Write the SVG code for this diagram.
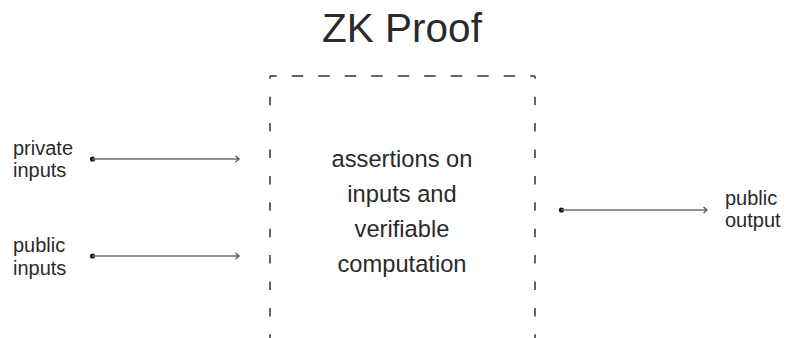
<svg xmlns="http://www.w3.org/2000/svg" width="785" height="338" viewBox="0 0 785 338">
<style>
text{font-family:"Liberation Sans",Arial,sans-serif;fill:#2a2a2a}
.lbl{font-size:20px}
.ctr{font-size:23.7px;text-anchor:middle}
.conn{stroke:#6e6e6e;stroke-width:1.5;fill:none;marker-end:url(#arr)}
.dot{fill:#1a1a1a}
.box{fill:none;stroke:#333;stroke-width:1.5}
.h{stroke-dasharray:11.5 15;stroke-dashoffset:4.8}
.v{stroke-dasharray:8.5 17.9;stroke-dashoffset:5.7}
</style>
<defs>
<marker id="arr" viewBox="0 0 10 10" refX="9" refY="5" markerWidth="10" markerHeight="10" markerUnits="userSpaceOnUse" orient="auto">
<path d="M5.5,2 L9,5 L5.5,8" fill="none" stroke="#555" stroke-width="1.3"/>
</marker>
</defs>
<text x="402" y="42" style="font-size:40.5px;text-anchor:middle">ZK Proof</text>
<g id="proof">
<path class="box h" d="M270,76 H535"/>
<path class="box v" d="M270,76 V345"/>
<path class="box v" d="M535,76 V345"/>
<text class="ctr" x="402" y="167">assertions on</text>
<text class="ctr" x="402" y="202">inputs and</text>
<text class="ctr" x="402" y="237">verifiable</text>
<text class="ctr" x="402" y="272">computation</text>
</g>
<g id="private-inputs">
<text class="lbl" x="13" y="155">private</text>
<text class="lbl" x="13" y="177">inputs</text>
</g>
<g id="public-inputs">
<text class="lbl" x="13" y="252">public</text>
<text class="lbl" x="13" y="275">inputs</text>
</g>
<g id="public-output">
<text class="lbl" x="725" y="205">public</text>
<text class="lbl" x="725" y="227">output</text>
</g>
<g id="connectors">
<circle class="dot" cx="92.5" cy="159" r="2.6"/>
<path class="conn" d="M92.5,159 H239"/>
<circle class="dot" cx="92.5" cy="256" r="2.6"/>
<path class="conn" d="M92.5,256 H239"/>
<circle class="dot" cx="561.5" cy="210" r="2.6"/>
<path class="conn" d="M561.5,210 H707"/>
</g>
</svg>
